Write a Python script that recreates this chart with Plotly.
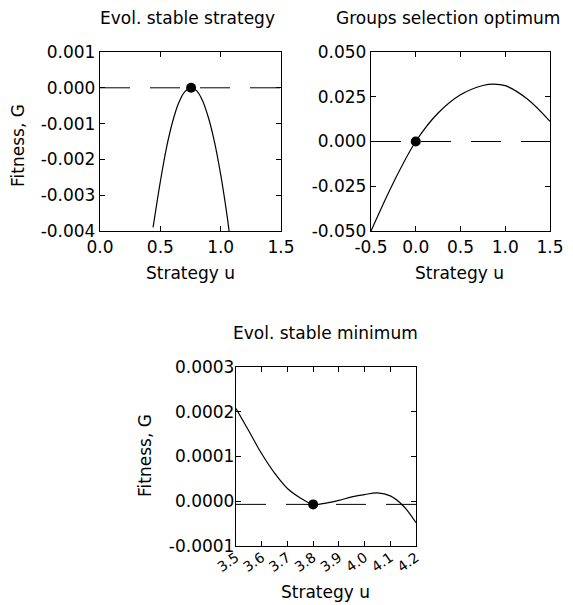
import plotly.graph_objects as go

W, H = 573, 605

# ---------------- data ----------------
# Panel 1: Evol. stable strategy
u1 = [0.44, 0.50, 0.55, 0.60, 0.65, 0.70, 0.755, 0.80, 0.85, 0.90, 0.95, 1.00, 1.05, 1.07]
G1 = [-0.0039, -0.00262, -0.00169, -0.00097, -0.00044, -0.00012, 0.0, -0.00008,
      -0.00036, -0.00085, -0.00153, -0.00242, -0.0035, -0.0040]
# Panel 2: Groups selection optimum
u2 = [-0.5, -0.25, 0.0, 0.25, 0.5, 0.75, 0.87, 1.0, 1.25, 1.5]
G2 = [-0.050, -0.023, 0.0, 0.0159, 0.0261, 0.0313, 0.0321, 0.0312, 0.0236, 0.0112]
# Panel 3: Evol. stable minimum
u3 = [3.5, 3.55, 3.6, 3.65, 3.7, 3.75, 3.8, 3.85, 3.9, 3.95, 4.0, 4.05, 4.1, 4.15, 4.2]
G3 = [0.000207, 0.000157, 0.000106, 0.000063, 0.0000285, 0.0000075, -0.000007,
      -0.000004, 0.000002, 0.0000096, 0.000015, 0.0000185, 0.000012, -0.000010, -0.000048]

# highlighted strategy points and reference (dashed) levels
ess_u = [0.755, 0.0, 3.8]
ess_G = [0.0, 0.0, -0.000007]
ref_levels = [0.0, 0.0, -0.000007]

titles = ["Evol. stable strategy", "Groups selection optimum", "Evol. stable minimum"]

x1_ticks = [0.0, 0.5, 1.0, 1.5]
x1_text = ["0.0", "0.5", "1.0", "1.5"]
y1_ticks = [0.001, 0.0, -0.001, -0.002, -0.003, -0.004]
y1_text = ["0.001", "0.000", "-0.001", "-0.002", "-0.003", "-0.004"]

x2_ticks = [-0.5, 0.0, 0.5, 1.0, 1.5]
x2_text = ["-0.5", "0.0", "0.5", "1.0", "1.5"]
y2_ticks = [0.05, 0.025, 0.0, -0.025, -0.05]
y2_text = ["0.050", "0.025", "0.000", "-0.025", "-0.050"]

x3_ticks = [3.5, 3.6, 3.7, 3.8, 3.9, 4.0, 4.1, 4.2]
x3_text = ["3.5", "3.6", "3.7", "3.8", "3.9", "4.0", "4.1", "4.2"]
y3_ticks = [0.0003, 0.0002, 0.0001, 0.0, -0.0001]
y3_text = ["0.0003", "0.0002", "0.0001", "0.0000", "-0.0001"]

# ---------------- figure ----------------
FONT = "DejaVu Sans, sans-serif"
FS = 17
fig = go.Figure()

def px_dom_x(a, b):
    return [a / W, b / W]

def px_dom_y(top, bottom):
    return [1 - bottom / H, 1 - top / H]

panels = [
    dict(u=u1, G=G1, xr=[0, 1.5], yr=[-0.004, 0.001], xt=(x1_ticks, x1_text), yt=(y1_ticks, y1_text),
         xd=px_dom_x(100, 281), yd=px_dom_y(52, 231), ang=0, xfs=FS, xso=0, yso=0),
    dict(u=u2, G=G2, xr=[-0.5, 1.5], yr=[-0.05, 0.05], xt=(x2_ticks, x2_text), yt=(y2_ticks, y2_text),
         xd=px_dom_x(371, 550), yd=px_dom_y(52, 231), ang=0, xfs=FS, xso=0, yso=0),
    dict(u=u3, G=G3, xr=[3.5, 4.2], yr=[-0.0001, 0.0003], xt=(x3_ticks, x3_text), yt=(y3_ticks, y3_text),
         xd=px_dom_x(236, 416), yd=px_dom_y(367, 546), ang=-35, xfs=14, xso=-3, yso=-3),
]

layout = dict(template="none", width=W, height=H, margin=dict(l=0, r=0, t=0, b=0, pad=0),
              paper_bgcolor="white", plot_bgcolor="white", showlegend=False,
              font=dict(family=FONT, size=FS, color="black"))

for i, p in enumerate(panels):
    n = "" if i == 0 else str(i + 1)
    xa, ya = "x" + n, "y" + n
    fig.add_trace(go.Scatter(x=p["u"], y=p["G"], mode="lines", line=dict(color="black", width=1.2, shape="spline"),
                             xaxis=xa, yaxis=ya, hoverinfo="skip", cliponaxis=True))
    fig.add_trace(go.Scatter(x=[ess_u[i]], y=[ess_G[i]], mode="markers", marker=dict(color="black", size=10),
                             xaxis=xa, yaxis=ya, hoverinfo="skip"))
    fig.add_shape(type="line", xref=xa + " domain", yref=ya, x0=0, x1=1, y0=ref_levels[i], y1=ref_levels[i],
                  line=dict(color="black", width=1, dash="30px,20px"), layer="below")
    common = dict(showline=True, linecolor="black", linewidth=1.3, mirror="ticks", ticks="inside",
                  ticklen=5, tickwidth=1.2, tickcolor="black", showgrid=False, zeroline=False,
                  automargin=False, tickmode="array")
    layout["xaxis" + n] = dict(common, domain=p["xd"], range=p["xr"], tickvals=p["xt"][0], ticktext=p["xt"][1],
                               anchor=ya, tickangle=p["ang"], ticklabelstandoff=p["xso"],
                               tickfont=dict(family=FONT, size=p["xfs"], color="black"))
    layout["yaxis" + n] = dict(common, domain=p["yd"], range=p["yr"], tickvals=p["yt"][0], ticktext=p["yt"][1],
                               anchor=xa, ticklabelstandoff=p["yso"],
                               tickfont=dict(family=FONT, size=FS, color="black"))

fig.update_layout(**layout)

def ann(text, x, y, angle=0):
    fig.add_annotation(text=text, x=x / W, y=1 - y / H, xref="paper", yref="paper", showarrow=False,
                       xanchor="center", yanchor="middle", textangle=angle,
                       font=dict(family=FONT, size=FS, color="black"))

ann(titles[0], 187, 18)
ann(titles[1], 448, 18)
ann(titles[2], 325, 333)
ann("Strategy u", 190, 273)
ann("Strategy u", 459, 273)
ann("Strategy u", 325, 592)
ann("Fitness, G", 18, 146, -90)
ann("Fitness, G", 145, 456, -90)

fig.write_html("out.html", config={"displayModeBar": False},
               post_script="document.body.style.margin='0';document.body.style.padding='0';"
                           "document.body.style.overflow='hidden';")
